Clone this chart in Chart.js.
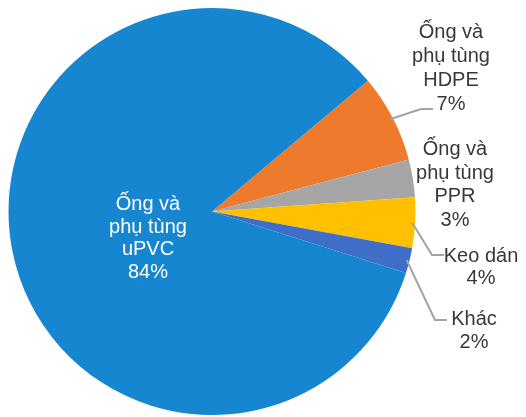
<!DOCTYPE html>
<html>
<head>
<meta charset="utf-8">
<script src="https://cdn.jsdelivr.net/npm/chart.js@4/dist/chart.umd.min.js"></script>
<style>
  html, body { margin: 0; padding: 0; background: #ffffff; }
  #wrap { width: 526px; height: 417px; position: relative; }
</style>
</head>
<body>
<div id="wrap"><canvas id="c" width="526" height="417"></canvas></div>
<script>
// Product mix shares (percent)
const categories = ["Ống và phụ tùng HDPE", "Ống và phụ tùng PPR", "Keo dán", "Khác", "Ống và phụ tùng uPVC"];
const shares = [7, 3, 4, 2, 84];
const labelLines = [
  ["Ống và", "phụ tùng", "HDPE", "7%"],
  ["Ống và", "phụ tùng", "PPR", "3%"],
  ["Keo dán", "4%"],
  ["Khác", "2%"],
  ["Ống và", "phụ tùng", "uPVC", "84%"]
];
const colors = ["#EE7B2C", "#A6A6A6", "#FFC000", "#3E6EC8", "#1586CF"];

// Label placement: centre x, first baseline y, line step, optional leader elbow
const labelPos = [
  { x: 451, y: 38, step: 24, elbow: [421, 109], end: [433, 109] },
  { x: 455, y: 155, step: 23.5 },
  { x: 481, y: 262, step: 21.5, elbow: [432, 255], end: [444, 255] },
  { x: 474, y: 325, step: 23, elbow: [435, 320], end: [447, 320] },
  { x: 148, y: 210, step: 22.5, inside: true }
];

const labelPlugin = {
  id: 'sliceLabels',
  afterDatasetsDraw(chart) {
    const ctx = chart.ctx;
    const meta = chart.getDatasetMeta(0);
    ctx.save();
    meta.data.forEach((arc, i) => {
      const p = labelPos[i];
      if (p.elbow) {
        const mid = (arc.startAngle + arc.endAngle) / 2;
        const r = arc.outerRadius - 3;
        const sx = arc.x + Math.cos(mid) * r;
        const sy = arc.y + Math.sin(mid) * r;
        ctx.strokeStyle = '#A3A3A3';
        ctx.lineWidth = 2;
        ctx.beginPath();
        ctx.moveTo(sx, sy);
        ctx.lineTo(p.elbow[0], p.elbow[1]);
        ctx.lineTo(p.end[0], p.end[1]);
        ctx.stroke();
      }
      ctx.font = '20px "Liberation Sans", Arial, sans-serif';
      ctx.textAlign = 'center';
      ctx.textBaseline = 'alphabetic';
      ctx.fillStyle = p.inside ? '#ffffff' : '#383838';
      labelLines[i].forEach((t, k) => ctx.fillText(t, p.x, p.y + k * p.step));
    });
    ctx.restore();
  }
};

new Chart(document.getElementById('c'), {
  type: 'pie',
  data: {
    labels: categories,
    datasets: [{
      data: shares,
      backgroundColor: colors,
      borderWidth: 0
    }]
  },
  options: {
    responsive: false,
    animation: false,
    rotation: 50,
    layout: { padding: { left: 8, right: 110, top: 8, bottom: 2 } },
    plugins: {
      legend: { display: false },
      tooltip: { enabled: false }
    }
  },
  plugins: [labelPlugin]
});
</script>
</body>
</html>
